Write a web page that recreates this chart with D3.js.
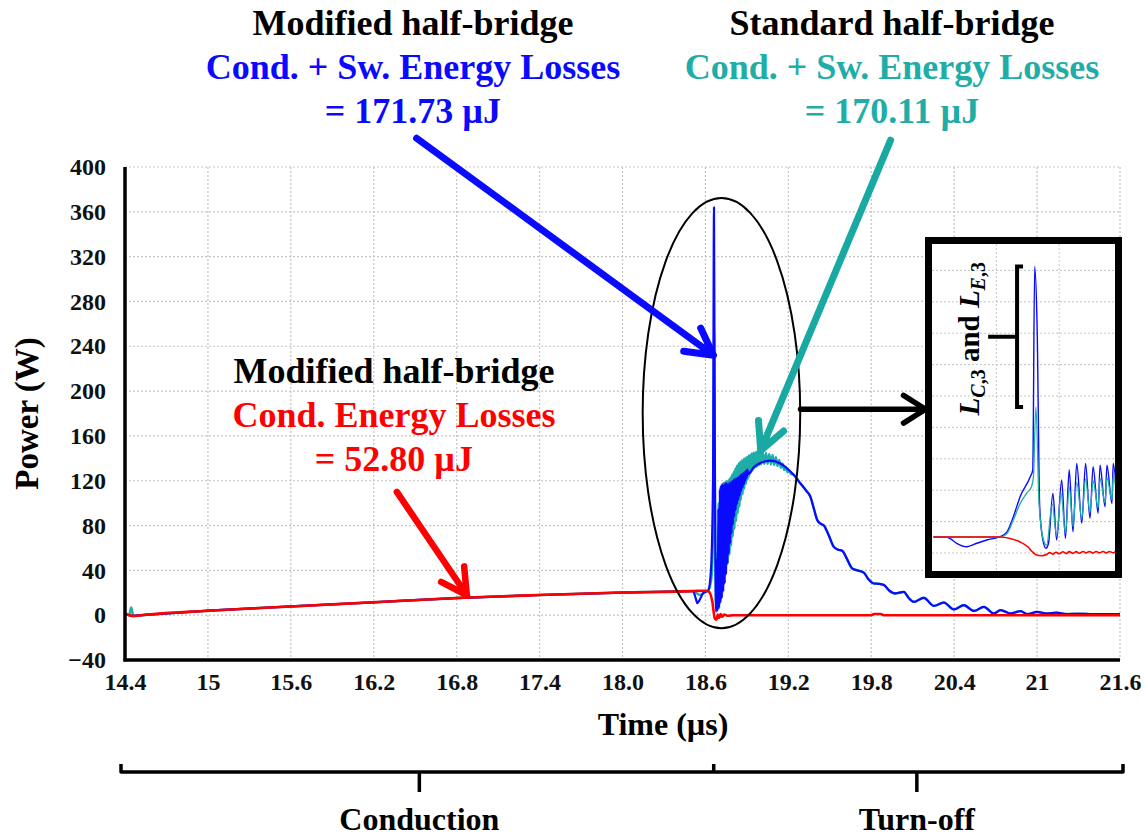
<!DOCTYPE html>
<html>
<head>
<meta charset="utf-8">
<script src="https://cdn.jsdelivr.net/npm/d3@7"></script>
<style>
  html, body { margin: 0; padding: 0; background: #fff; }
  svg { display: block; font-family: "Liberation Serif", "Times New Roman", serif; font-weight: bold; }
</style>
</head>
<body>
<div id="chart"></div>
<script>
// ---- axis ticks ----
const xTicks = [14.4, 15, 15.6, 16.2, 16.8, 17.4, 18.0, 18.6, 19.2, 19.8, 20.4, 21, 21.6];
const xTickLabels = ['14.4', '15', '15.6', '16.2', '16.8', '17.4', '18.0', '18.6', '19.2', '19.8', '20.4', '21', '21.6'];
const yTicks = [-40, 0, 40, 80, 120, 160, 200, 240, 280, 320, 360, 400];

// ---- main traces: [time (us), power (W)] ----
// conduction ramp, common to all three traces
const condPts = [[14.52, 0], [15.0, 4], [15.6, 7.8], [16.2, 11.5], [16.8, 15.3], [17.4, 18], [18.0, 20.2], [18.5, 21.5]];

const redStart = [[14.4, 1.5], [14.42, 0.5], [14.46, -0.8]];
const redTail = [[18.54, 21.7], [18.6, 21.8], [18.625, 21], [18.65, 12], [18.668, -3], [18.68, -4], [18.69, 0.5],
  [18.70, -2.5], [18.71, 1], [18.72, -1.5], [18.735, 0.5], [18.76, -0.5], [18.8, 0], [19.8, 0], [19.82, 1],
  [19.87, 1], [19.89, 0], [21.6, 0]];

const blueStart = [[14.4, 1], [14.46, -0.5]];
const blueSwitch = [[18.51, 21.6], [18.53, 15], [18.542, 10.7], [18.56, 14], [18.585, 20], [18.62, 22], [18.64, 40],
  [18.655, 120], [18.662, 364], [18.668, 150], [18.678, 3],
  [18.684, 50], [18.689, 4], [18.694, 95], [18.699, 6], [18.704, 112], [18.709, 11], [18.714, 116], [18.719, 15],
  [18.724, 117], [18.729, 21], [18.734, 117], [18.739, 28], [18.744, 118], [18.749, 36], [18.754, 118], [18.759, 46],
  [18.764, 118], [18.769, 55], [18.774, 118], [18.779, 64], [18.784, 119], [18.789, 73], [18.794, 120], [18.799, 81],
  [18.804, 121], [18.809, 88], [18.814, 122], [18.819, 94], [18.824, 122], [18.829, 99], [18.834, 123], [18.839, 103],
  [18.844, 124], [18.849, 107], [18.854, 125], [18.859, 111], [18.864, 126], [18.869, 114], [18.874, 127], [18.879, 117],
  [18.884, 128], [18.889, 120], [18.894, 129], [18.899, 123], [18.904, 130], [18.909, 126],
  [18.95, 132], [19.0, 136], [19.07, 138], [19.143, 135.4], [19.2, 130]];

const tealStart = [[14.4, 1.5], [14.43, 0], [14.445, 7], [14.46, -0.5]];
const tealSwitch = [[18.53, 20], [18.56, 18], [18.6, 20.5], [18.625, 23], [18.645, 35], [18.657, 95], [18.663, 250],
  [18.669, 110], [18.678, 5],
  [18.684, 55], [18.690, 7], [18.696, 100], [18.702, 10], [18.708, 114], [18.714, 16], [18.720, 117], [18.726, 22],
  [18.732, 118], [18.738, 30], [18.744, 119], [18.750, 38], [18.756, 120], [18.762, 46], [18.768, 121], [18.774, 54],
  [18.780, 123], [18.786, 62], [18.792, 125.5], [18.798, 70], [18.804, 128], [18.810, 77], [18.816, 131], [18.822, 84],
  [18.828, 133.5], [18.834, 91], [18.840, 135.5], [18.846, 97], [18.852, 137], [18.858, 103], [18.864, 138.5],
  [18.870, 108], [18.876, 139.5], [18.882, 113], [18.888, 140.5], [18.894, 117], [18.900, 141.5], [18.906, 121],
  [18.912, 142.5], [18.918, 124], [18.924, 143.5], [18.930, 127], [18.936, 144.5], [18.942, 129], [18.948, 145],
  [18.954, 131], [18.960, 145.5], [18.966, 132], [18.972, 146], [18.978, 133], [18.984, 146], [18.990, 134],
  [18.996, 146], [19.002, 134.5], [19.014, 145.5], [19.026, 135], [19.038, 145], [19.050, 135], [19.062, 144],
  [19.074, 134.5], [19.086, 143], [19.098, 134], [19.110, 141], [19.122, 133], [19.134, 138.5], [19.146, 131.5],
  [19.158, 135.5], [19.170, 129.5], [19.182, 132.5], [19.194, 127.5], [19.206, 129.5], [19.218, 126]];

// turn-off tail, common to both switching traces
const decayPts = [[19.237, 125.5], [19.288, 117.5], [19.33, 111], [19.36, 105.6], [19.385, 95], [19.409, 85],
  [19.435, 81.5], [19.457, 80], [19.49, 72], [19.529, 61], [19.56, 58.5], [19.59, 57.5], [19.625, 50], [19.662, 41.7],
  [19.70, 40], [19.746, 38], [19.78, 32], [19.818, 28.3], [19.855, 28], [19.891, 27], [19.93, 22], [19.975, 19.4],
  [20.036, 20.8], [20.07, 15.5], [20.108, 11.9], [20.18, 15.5], [20.253, 8.3], [20.325, 11.3], [20.398, 5.1],
  [20.47, 8.9], [20.543, 3.8], [20.615, 7.4], [20.687, 1.5], [20.736, 4.5], [20.808, 1.5], [20.881, 3.6],
  [20.93, 0.9], [21.0, 2.9], [21.07, 1.5], [21.14, 2.2], [21.21, 1], [21.3, 1.3], [21.4, 0.9], [21.6, 0.9]];

// ---- inset (zoom of the turn-off instant) ----
const insetGridT = [18.6, 18.7];
const insetGridP = [0, 40, 80, 120, 160, 200, 240, 280, 320, 360];
const insetRed = [[18.5, 20.4], [18.606, 20.4], [18.622, 18.5], [18.638, 14], [18.65, 8], [18.658, 1], [18.664, -2.5],
  [18.672, -3.5], [18.68, -2], [18.685, 0.5], [18.690, -1.5], [18.695, 1], [18.700, -1], [18.706, 1.5], [18.711, -0.8],
  [18.716, 1.8], [18.722, -0.5], [18.727, 1.8], [18.732, -0.3], [18.738, 2], [18.743, 0], [18.748, 2], [18.754, 0],
  [18.759, 2], [18.764, 0.2], [18.770, 2], [18.775, 0.2], [18.780, 2], [18.786, 0.3], [18.79, 1.8]];
const insetBlue = [[18.5, 20.4], [18.52, 20.4], [18.526, 18.7], [18.537, 12.4], [18.553, 8], [18.569, 12.4],
  [18.585, 16.6], [18.606, 20.8], [18.617, 27], [18.627, 46], [18.638, 72], [18.654, 97], [18.658, 106],
  [18.661, 365], [18.665, 284], [18.669, 59], [18.674, 16.6], [18.679, 6], [18.683, 12.4], [18.690, 76],
  [18.696, 16.6], [18.704, 93], [18.710, 18.7], [18.716, 106], [18.722, 27], [18.728, 114], [18.736, 38],
  [18.742, 114], [18.749, 44], [18.754, 110], [18.762, 50.6], [18.765, 112], [18.773, 59], [18.776, 112],
  [18.784, 63], [18.786, 114], [18.792, 67]];
const insetTeal = [[18.5, 20.4], [18.606, 20.4], [18.617, 25], [18.627, 42], [18.638, 63], [18.648, 76],
  [18.656, 84.5], [18.659, 97], [18.663, 186], [18.668, 63], [18.675, 16.6], [18.680, 10], [18.689, 62],
  [18.696, 22], [18.703, 76], [18.710, 25], [18.716, 84], [18.722, 34], [18.728, 90], [18.736, 44], [18.742, 94],
  [18.749, 52], [18.754, 92], [18.762, 58], [18.765, 95], [18.773, 64], [18.776, 96], [18.784, 68], [18.786, 98],
  [18.792, 72]];

// phases under the time axis
const phaseBounds = [14.4, 18.66, 21.6];
const phaseNames = ['Conduction', 'Turn-off'];

const COL = { blue: '#0a0aff', teal: '#1fada7', red: '#ff0000', grid: '#c4c4c4' };
const W = 1145, H = 838;

const svg = d3.select('#chart').append('svg').attr('width', W).attr('height', H);

const x = d3.scaleLinear().domain([14.4, 21.6]).range([125, 1120]);
const y = d3.scaleLinear().domain([-40, 400]).range([660, 167]);

// grid
const grid = svg.append('g');
grid.selectAll('line.v').data(xTicks.slice(1)).join('line')
  .attr('x1', d => x(d)).attr('x2', d => x(d)).attr('y1', y(400)).attr('y2', y(-40));
grid.selectAll('line.h').data(yTicks.slice(1)).join('line')
  .attr('x1', x(14.4)).attr('x2', x(21.6)).attr('y1', d => y(d)).attr('y2', d => y(d));
grid.selectAll('line').attr('stroke', COL.grid).attr('stroke-width', 1.2).attr('stroke-dasharray', '2,2');

// traces
svg.append('clipPath').attr('id', 'plotClip').append('rect')
  .attr('x', x(14.4)).attr('y', y(400) - 2).attr('width', x(21.6) - x(14.4)).attr('height', y(-40) - y(400) + 2);
const line = d3.line().x(d => x(d[0])).y(d => y(d[1])).curve(d3.curveMonotoneX);
const traces = svg.append('g').attr('clip-path', 'url(#plotClip)');
const series = [
  { pts: tealStart.concat(condPts, tealSwitch, decayPts), color: COL.teal, w: 2.4 },
  { pts: blueStart.concat(condPts, blueSwitch, decayPts), color: COL.blue, w: 2.2 },
  { pts: redStart.concat(condPts, redTail), color: COL.red, w: 2.6 },
];
series.forEach(s => {
  traces.append('path').attr('d', line(s.pts)).attr('fill', 'none')
    .attr('stroke', s.color).attr('stroke-width', s.w).attr('stroke-linejoin', 'round');
});

// axes
svg.append('g').attr('transform', `translate(0,${y(-40)})`)
  .call(d3.axisBottom(x).tickValues(xTicks).tickFormat((d, i) => xTickLabels[i]).tickSize(0).tickPadding(13))
  .call(g => g.select('.domain').remove())
  .selectAll('text').attr('font-size', 24).attr('font-family', 'Liberation Serif').attr('font-weight', 'bold').attr('fill', '#111');
svg.append('g').attr('transform', `translate(${x(14.4)},0)`)
  .call(d3.axisLeft(y).tickValues(yTicks).tickSize(0).tickPadding(19))
  .call(g => g.select('.domain').remove())
  .selectAll('text').attr('font-size', 24).attr('font-family', 'Liberation Serif').attr('font-weight', 'bold').attr('fill', '#111');
svg.append('line').attr('x1', x(14.4)).attr('x2', x(14.4)).attr('y1', y(400)).attr('y2', y(-40) + 1.5)
  .attr('stroke', '#000').attr('stroke-width', 3.5);
svg.append('line').attr('x1', x(14.4) - 1.5).attr('x2', x(21.6)).attr('y1', y(-40)).attr('y2', y(-40))
  .attr('stroke', '#000').attr('stroke-width', 3.5);

svg.append('text').attr('transform', `translate(38,${y(180)}) rotate(-90)`)
  .attr('text-anchor', 'middle').attr('font-size', 33).text('Power (W)');
svg.append('text').attr('x', 663).attr('y', 735)
  .attr('text-anchor', 'middle').attr('font-size', 32).text('Time (µs)');

// ellipse around the switching event
svg.append('ellipse').attr('cx', x(18.716)).attr('cy', y(180.3))
  .attr('rx', x(18.716 + 0.57) - x(18.716)).attr('ry', y(0) - y(192))
  .attr('fill', 'none').attr('stroke', '#000').attr('stroke-width', 2);

// arrows (endpoints in data units)
function arrow(from, to, color, width, wing, spread) {
  const x1 = x(from[0]), y1 = y(from[1]), x2 = x(to[0]), y2 = y(to[1]);
  const ang = Math.atan2(y2 - y1, x2 - x1);
  const a1 = ang + Math.PI - spread, a2 = ang + Math.PI + spread;
  const p = d3.path();
  p.moveTo(x1, y1); p.lineTo(x2, y2);
  p.moveTo(x2 + wing * Math.cos(a1), y2 + wing * Math.sin(a1));
  p.lineTo(x2, y2);
  p.lineTo(x2 + wing * Math.cos(a2), y2 + wing * Math.sin(a2));
  svg.append('path').attr('d', p.toString()).attr('fill', 'none').attr('stroke', color)
    .attr('stroke-width', width).attr('stroke-linecap', 'round').attr('stroke-linejoin', 'round');
}
arrow([16.51, 425.7], [18.658, 232], COL.blue, 7, 30, 0.5);
arrow([19.94, 424], [19.0, 147], '#17a9a2', 7, 30, 0.47);
arrow([16.367, 110], [16.874, 17.8], COL.red, 6.5, 29, 0.5);
arrow([19.288, 183.8], [20.193, 183.8], '#000', 5.5, 26, 0.56);

// text blocks
function block(cx, y0, lines) {
  lines.forEach((l, i) => {
    svg.append('text').attr('x', cx).attr('y', y0 + i * 44).attr('text-anchor', 'middle')
      .attr('font-size', 36).attr('fill', l[1]).text(l[0]);
  });
}
block(413, 35, [['Modified half-bridge', '#000'], ['Cond. + Sw. Energy Losses', COL.blue], ['= 171.73 µJ', COL.blue]]);
block(892, 35, [['Standard half-bridge', '#000'], ['Cond. + Sw. Energy Losses', COL.teal], ['= 170.11 µJ', COL.teal]]);
block(394, 383, [['Modified half-bridge', '#000'], ['Cond. Energy Losses', COL.red], ['= 52.80 µJ', COL.red]]);

// ---- inset ----
const ix = d3.scaleLinear().domain([18.5, 18.8]).range([933.5, 1122]);
const iy = d3.scaleLinear().domain([0, 400]).range([553, 239]);
const inset = svg.append('g');
inset.append('rect').attr('x', 928.5).attr('y', 240.5).attr('width', 190).attr('height', 334).attr('fill', '#fff');
svg.append('clipPath').attr('id', 'insetClip').append('rect').attr('x', 932).attr('y', 244).attr('width', 183).attr('height', 327);
const ig = inset.append('g').attr('clip-path', 'url(#insetClip)');
ig.selectAll('line.v').data(insetGridT).join('line')
  .attr('x1', d => ix(d)).attr('x2', d => ix(d)).attr('y1', 244).attr('y2', 571);
ig.selectAll('line.h').data(insetGridP).join('line')
  .attr('x1', 932).attr('x2', 1115).attr('y1', d => iy(d)).attr('y2', d => iy(d));
ig.selectAll('line').attr('stroke', COL.grid).attr('stroke-width', 1).attr('stroke-dasharray', '2,2');
const iline = d3.line().x(d => ix(d[0])).y(d => iy(d[1])).curve(d3.curveMonotoneX);
[[insetBlue, COL.blue, 1.4], [insetTeal, COL.teal, 1.3], [insetRed, COL.red, 1.6]].forEach(([pts, c, w]) => {
  ig.append('path').attr('d', iline(pts)).attr('fill', 'none').attr('stroke', c).attr('stroke-width', w);
});
inset.append('rect').attr('x', 928.5).attr('y', 240.5).attr('width', 190).attr('height', 334)
  .attr('fill', 'none').attr('stroke', '#000').attr('stroke-width', 7);

// bracket marking the spike difference
const mk = { t: 18.633, top: 365, bottom: 186, tickT: 18.587 };
const bx = ix(mk.t), byT = iy(mk.top), byB = iy(mk.bottom), byM = (byT + byB) / 2;
inset.append('path')
  .attr('d', `M${bx + 6},${byT} L${bx},${byT} L${bx},${byB} L${bx + 6},${byB} M${bx},${byM} L${ix(mk.tickT)},${byM}`)
  .attr('fill', 'none').attr('stroke', '#000').attr('stroke-width', 4);
const lbl = inset.append('text').attr('transform', `translate(979,${byM + 2}) rotate(-90)`)
  .attr('text-anchor', 'middle').attr('font-size', 29);
lbl.append('tspan').attr('font-style', 'italic').text('L');
lbl.append('tspan').attr('font-size', 20).attr('dy', 6).attr('font-style', 'italic').text('C');
lbl.append('tspan').attr('font-size', 20).text(',3');
lbl.append('tspan').attr('dy', -6).text(' and ');
lbl.append('tspan').attr('font-style', 'italic').text('L');
lbl.append('tspan').attr('font-size', 20).attr('dy', 6).attr('font-style', 'italic').text('E');
lbl.append('tspan').attr('font-size', 20).text(',3');

// ---- phase bracket below the axis ----
const py = 772;
const px0 = x(phaseBounds[0]) - 4, px2 = x(phaseBounds[2]) + 3, px1 = x(phaseBounds[1]);
let bp = `M${px0},${py - 8} L${px0},${py} L${px2},${py} L${px2},${py - 8} M${px1},${py} L${px1},${py - 8}`;
phaseNames.forEach((n, i) => {
  const cx = x((phaseBounds[i] + phaseBounds[i + 1]) / 2);
  bp += ` M${cx},${py} L${cx},${py + 20}`;
  svg.append('text').attr('x', cx).attr('y', 830).attr('text-anchor', 'middle').attr('font-size', 32).text(n);
});
svg.append('path').attr('d', bp).attr('fill', 'none').attr('stroke', '#000').attr('stroke-width', 3.5)
  .attr('stroke-linejoin', 'round');
</script>
</body>
</html>
